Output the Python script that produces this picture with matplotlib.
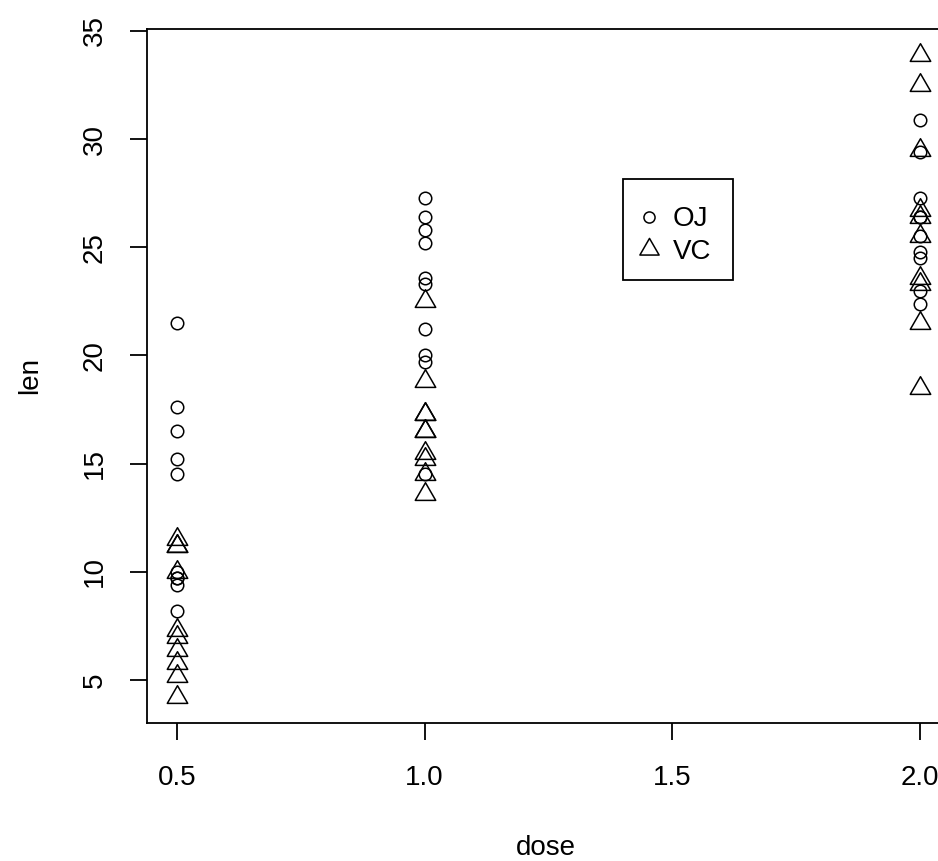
import matplotlib
matplotlib.use("Agg")
import matplotlib.pyplot as plt
from matplotlib.path import Path
from matplotlib.lines import Line2D
from matplotlib.patches import Rectangle
import numpy as np

plt.rcParams['font.family'] = ['Liberation Sans', 'DejaVu Sans']

# ToothGrowth data
doses = [0.5, 1.0, 2.0]
vc_len = {
    0.5: [4.2, 11.5, 7.3, 5.8, 6.4, 10.0, 11.2, 11.2, 5.2, 7.0],
    1.0: [16.5, 16.5, 15.2, 17.3, 22.5, 17.3, 13.6, 14.5, 18.8, 15.5],
    2.0: [23.6, 18.5, 33.9, 25.5, 26.4, 32.5, 26.7, 21.5, 23.3, 29.5],
}
oj_len = {
    0.5: [15.2, 21.5, 17.6, 9.7, 14.5, 10.0, 8.2, 9.4, 16.5, 9.7],
    1.0: [19.7, 23.3, 23.6, 26.4, 20.0, 25.2, 25.8, 21.2, 14.5, 27.3],
    2.0: [25.5, 26.4, 22.4, 24.5, 24.8, 30.9, 26.4, 27.3, 29.4, 23.0],
}
x_ticks = [0.5, 1.0, 1.5, 2.0]
x_ticklabels = ["0.5", "1.0", "1.5", "2.0"]
y_ticks = [5, 10, 15, 20, 25, 30, 35]
supp_labels = ["OJ", "VC"]

tri = Path([(-1, -0.577), (1, -0.577), (0, 1.155), (-1, -0.577)],
           [Path.MOVETO, Path.LINETO, Path.LINETO, Path.CLOSEPOLY])

FS = 20
W, H = 938, 861
fig = plt.figure(figsize=(W / 100, H / 100), dpi=100)
ax = fig.add_axes([147 / W, (H - 723) / H, (950 - 147) / W, (723 - 29) / H])

for d in doses:
    ax.plot([d] * len(oj_len[d]), oj_len[d], linestyle='none', marker='o',
            markersize=9, markerfacecolor='none', markeredgecolor='black',
            markeredgewidth=1.1)
    ax.plot([d] * len(vc_len[d]), vc_len[d], linestyle='none', marker=tri,
            markersize=17, markerfacecolor='none', markeredgecolor='black',
            markeredgewidth=1.1)

ax.set_xlim(0.44, 2.06)
ax.set_ylim(3.012, 35.088)
ax.set_xticks(x_ticks)
ax.set_xticklabels(x_ticklabels)
ax.set_yticks(y_ticks)
ax.set_yticklabels([str(v) for v in y_ticks], rotation=90, va='center')
for s in ax.spines.values():
    s.set_linewidth(1.3)
ax.tick_params(axis='both', length=12, width=1.3, labelsize=FS, color='black')
ax.tick_params(axis='x', pad=18)
ax.tick_params(axis='y', pad=16)

fig.text(546 / W, 1 - 848 / H, "dose", fontsize=FS, ha='center', va='center')
fig.text(30 / W, 1 - 375 / H, "len", fontsize=FS, ha='center', va='center',
         rotation=90)

handles = [
    Line2D([], [], linestyle='none', marker='o', markersize=8,
           markerfacecolor='none', markeredgecolor='black', markeredgewidth=1.1),
    Line2D([], [], linestyle='none', marker=tri, markersize=16,
           markerfacecolor='none', markeredgecolor='black', markeredgewidth=1.1),
]
leg = fig.legend(handles, supp_labels, loc='upper left',
                 bbox_to_anchor=(621 / W, 1 - 187 / H), fontsize=FS,
                 frameon=False,
                 borderpad=0.7, handlelength=0.6, handletextpad=0.55,
                 labelspacing=0.22, borderaxespad=0)
fig.add_artist(Rectangle((623 / W, 1 - 280 / H), (733 - 623) / W, (280 - 179) / H,
                         transform=fig.transFigure, fill=False,
                         edgecolor='black', linewidth=1.3))

fig.savefig("out.png", dpi=100)
